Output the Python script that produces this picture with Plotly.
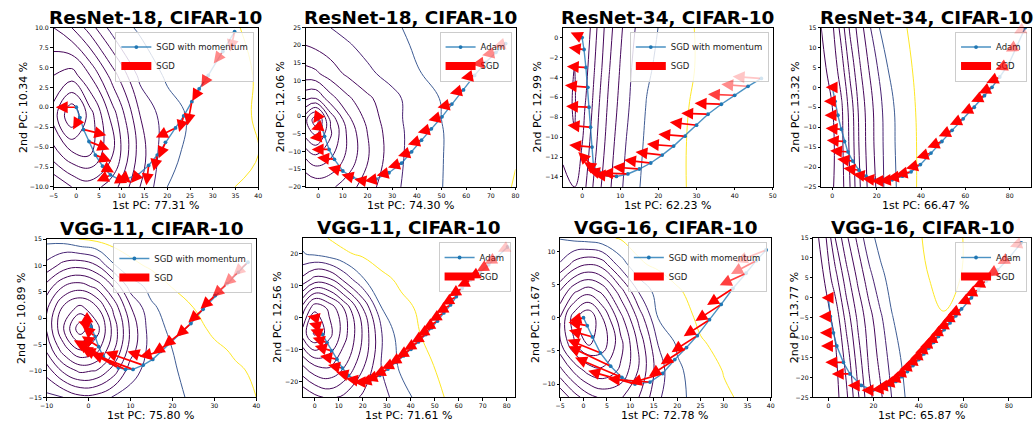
import plotly.graph_objects as go

W, H = 1035, 423

# ---------------- text ----------------
TITLES = ["ResNet-18, CIFAR-10", "ResNet-18, CIFAR-10", "ResNet-34, CIFAR-10", "ResNet-34, CIFAR-10",
          "VGG-11, CIFAR-10", "VGG-11, CIFAR-10", "VGG-16, CIFAR-10", "VGG-16, CIFAR-10"]
PC1 = ["77.31", "74.30", "62.23", "66.47", "75.80", "71.61", "72.78", "65.87"]
PC2 = ["10.34", "12.06", "12.99", "13.32", "10.89", "12.56", "11.67", "13.77"]
OPTIMIZER = ["SGD with momentum", "Adam", "SGD with momentum", "Adam",
             "SGD with momentum", "Adam", "SGD with momentum", "Adam"]
ARROW_NAME = "SGD"

# ---------------- panel 1: ResNet-18, SGD with momentum ----------------
P1_X = [34.8, 32.2, 29.0, 27.0, 25.4, 23.6, 21.8, 19.6, 17.8, 15.9, 13.5, 11.0, 9.2, 7.5, 5.8, 4.2, 2.8, 1.6, 0.8, 0.0]
P1_Y = [9.5, 7.0, 4.0, 2.3, 0.7, -1.1, -2.6, -4.4, -6.0, -7.3, -8.5, -9.0, -9.0, -8.5, -7.4, -6.0, -4.3, -2.8, -1.3, 0.0]
P1_U = [-1.0, -2.0, -1.5, -1.5, -1.0, -1.0, -4.3, -1.5, -0.8, -0.5, -1.5, 1.0, 2.0, -3.0, 2.5, 3.5, 4.5, 5.0, -1.5, -4.5]
P1_V = [-2.5, -1.5, -1.5, -1.5, -3.0, -2.0, -1.2, -2.0, -2.0, -2.5, -1.0, -0.5, -0.5, -0.8, -0.8, -0.8, -1.0, -0.7, -1.5, 0.0]
P1_GX = [-5, -1, 3, 8, 14, 20, 27, 34, 40]
P1_GY = [-10, -6, -1, 4, 10]
P1_Z = [
    [7.0, 6.0, 5.5, 6.5, 9.0, 11.0, 11.4, 11.95, 12.3],
    [4.5, 3.3, 3.0, 5.0, 8.5, 10.8, 11.3, 11.65, 12.0],
    [2.5, 0.0, 2.5, 5.5, 9.0, 10.6, 11.3, 11.7, 12.1],
    [4.0, 3.5, 5.0, 7.5, 10.3, 11.15, 11.5, 11.8, 12.05],
    [6.0, 7.0, 8.5, 10.5, 11.15, 11.4, 11.65, 11.9, 12.2],
]

# ---------------- panel 2: ResNet-18, Adam ----------------
P2_X = [76, 72, 67.9, 63.4, 58.9, 54.2, 50.2, 45.9, 41.9, 37.9, 33.8, 28.7, 23.4, 18.7, 14.0, 10.0, 6.6, 4.4, 2.6, 1.2, 0.0]
P2_Y = [20.5, 18.0, 15.2, 11.5, 7.4, 3.4, -0.2, -3.6, -6.8, -10.1, -13.3, -16.0, -17.8, -18.3, -17.3, -15.5, -12.2, -9.4, -5.7, -2.8, 0.0]
P2_U = [-5, -5.5, -5.6, -5.5, -5.5, -5.8, -5.5, -5.5, -5.5, -5.5, -5.5, -5.0, -4.5, -4.0, -4.5, -6, -7, -7, -6, -4, -2]
P2_V = [-1, -0.8, -0.6, -0.8, -1.0, -1.0, -1.0, -1.0, -1.2, -1.2, -1.2, -0.8, -0.5, 0.5, 0.8, 1.0, 0.5, 0.0, -0.5, -1.0, -2]
P2_GX = [-5, -1, 5, 12, 20, 30, 40, 50, 60, 70, 80]
P2_GY = [-20, -12, -5, -1, 5, 12, 20, 25]
P2_Z = [
    [7.0, 6.7, 6.8, 7.5, 8.6, 9.7, 10.55, 10.98, 11.4, 11.75, 12.05],
    [5.0, 4.4, 5.0, 6.3, 7.9, 9.6, 10.45, 10.97, 11.35, 11.7, 11.97],
    [2.6, 1.8, 3.8, 6.2, 8.0, 9.6, 10.4, 10.97, 11.3, 11.62, 11.9],
    [2.2, 0.3, 4.2, 6.7, 8.3, 9.7, 10.4, 11.0, 11.3, 11.6, 11.88],
    [5.2, 5.0, 6.6, 7.8, 8.8, 9.7, 10.5, 11.05, 11.35, 11.65, 11.9],
    [7.6, 7.8, 8.5, 9.2, 9.8, 10.35, 10.95, 11.2, 11.45, 11.7, 11.9],
    [9.0, 9.2, 9.5, 9.9, 10.3, 10.75, 11.1, 11.3, 11.5, 11.75, 11.95],
    [9.4, 9.6, 10.0, 10.3, 10.6, 10.9, 11.15, 11.35, 11.55, 11.75, 11.95],
]

# ---------------- panel 3: ResNet-34, SGD with momentum ----------------
P3_X = [47, 43.5, 40, 36.5, 33, 30, 27, 24, 21, 18, 15, 12, 9, 6.5, 4.5, 3, 2.6, 2.2, 1.8, 1.5, 1, 0.5, 0]
P3_Y = [-4.1, -4.9, -5.8, -6.7, -7.7, -8.8, -9.9, -10.9, -11.8, -12.6, -13.2, -13.7, -13.95, -13.8, -13.5, -13, -11, -9, -7, -5, -3, -1.2, 0]
P3_U = [-7.5, -7, -7, -7, -7, -7, -7, -7, -7, -7, -7, -7, -6, -5, -4, -4, -6, -6, -6, -6, -5, -4, -3]
P3_V = [0.2, 0.2, 0.1, 0.1, 0.1, 0.3, 0.2, 0.2, 0.3, 0.3, 0.2, 0.1, 0.2, 0.5, 1.0, 1.5, 0.2, 0.2, 0.1, 0.2, 0.1, 0.2, 0.5]
P3_GX = [-5, -2, 1, 3, 5, 7, 10, 13, 17, 22, 28, 35, 42, 50]
P3_GY = [-15, -11, -7, -3, 1]
P3_Z = [
    [5.5, 5.0, 6.0, 7.1, 8.0, 8.8, 9.8, 10.7, 11.25, 11.6, 12.05, 12.35, 12.6, 12.85],
    [4.6, 4.1, 5.5, 6.6, 7.6, 8.5, 9.6, 10.45, 11.2, 11.6, 12.05, 12.35, 12.6, 12.82],
    [4.4, 3.9, 5.1, 6.2, 7.3, 8.2, 9.3, 10.2, 11.07, 11.5, 12.0, 12.3, 12.55, 12.8],
    [4.5, 4.0, 4.7, 5.85, 6.9, 7.9, 9.05, 10.0, 10.85, 11.38, 11.93, 12.25, 12.52, 12.78],
    [4.6, 4.1, 4.3, 5.5, 6.6, 7.6, 8.8, 9.8, 10.65, 11.25, 11.95, 12.2, 12.5, 12.75],
]

# ---------------- panel 4: ResNet-34, Adam ----------------
P4_X = [87, 83.3, 79.6, 75.5, 72, 68.6, 64, 59, 54, 49.4, 44.5, 39.7, 35.5, 31.6, 27, 22.6, 18.5, 15.2, 12, 9.2, 7, 5.5, 4, 2.5, 1.2, 0.0]
P4_Y = [15, 10.5, 5.9, 2.6, 0.0, -2.1, -5.0, -7.9, -10.8, -13.6, -16.5, -19.4, -21.2, -22.3, -23.2, -23.5, -23.2, -22.3, -20.8, -18.5, -16.2, -13.6, -10.5, -7.0, -3.5, 0.0]
P4_U = [-5, -5, -6, -6, -6, -6, -6, -6, -6, -6.5, -6.5, -6.5, -7, -7, -6, -5, -5, -6, -7, -7, -8, -8, -7, -6, -5, -3]
P4_V = [-1.5, -1.5, -1.5, -1.5, -1.5, -1.5, -1.5, -1.5, -1.5, -1.5, -1.2, -1.0, -0.8, -0.5, -0.3, 0, 0.3, 0.5, 0.5, 0.5, 0.3, 0.3, 0.2, 0, 0, 0]
P4_GX = [-5, 0, 4, 8, 12, 16, 20, 25, 30, 38, 50, 65, 89.6]
P4_GY = [-25, -15, -5, 5, 15]
P4_Z = [
    [3.0, 2.9, 3.6, 5.0, 6.8, 8.1, 9.1, 10.5, 11.15, 12.0, 12.4, 12.7, 13.0],
    [2.5, 2.8, 3.7, 5.2, 7.0, 8.3, 9.3, 10.5, 11.25, 12.0, 12.4, 12.7, 13.0],
    [2.5, 3.0, 3.8, 5.4, 7.2, 8.4, 9.4, 10.6, 11.3, 12.05, 12.4, 12.7, 13.0],
    [2.7, 3.4, 4.5, 6.3, 7.8, 8.9, 9.9, 11.0, 11.55, 12.15, 12.5, 12.75, 13.05],
    [3.0, 3.8, 5.4, 7.2, 8.4, 9.6, 10.9, 11.3, 11.75, 12.3, 12.6, 12.8, 13.1],
]

# ---------------- panel 5: VGG-11, SGD with momentum ----------------
P5_X = [38.0, 35.7, 33.0, 30.2, 27.3, 24.4, 21.8, 19.3, 17.2, 15.3, 13.0, 10.6, 8.8, 7.1, 5.2, 3.5, 2.4, 1.6, 0.6, 0.0]
P5_Y = [10.6, 8.7, 6.5, 4.3, 1.7, -1.0, -2.9, -4.7, -6.3, -7.8, -8.9, -9.7, -9.7, -9.4, -8.5, -7.2, -5.4, -3.5, -1.6, 0.0]
P5_U = [-3.5, -3.5, -3.5, -3.5, -3.5, -3.5, -4, -4, -5, -6, -9, -10, -10, -9, -8, -7, -4, -3, -3, -2]
P5_V = [-2.5, -2.5, -2.5, -2.5, -2.5, -2.5, -2.5, -2.0, -1.0, 1.5, 2.5, 3.0, 4.0, 4.0, 4.0, 3.0, 2.0, 2.0, 1.0, -1.0]
P5_GX = [-10, -6, -2, 2, 6, 10, 15, 20, 25, 30, 35, 40]
P5_GY = [-15, -10, -6, -2, 2, 6, 10, 15]
P5_Z = [
    [10.3, 10.0, 9.3, 9.4, 10.1, 10.4, 10.6, 10.85, 11.1, 11.5, 11.75, 12.0],
    [8.6, 6.8, 5.8, 6.1, 7.5, 9.6, 10.45, 10.9, 11.3, 11.7, 11.9, 12.1],
    [6.8, 4.5, 3.0, 3.7, 5.9, 8.5, 10.5, 11.0, 11.5, 11.85, 12.1, 12.4],
    [5.9, 3.05, 0.26, 2.6, 5.4, 8.2, 10.6, 11.2, 11.75, 12.15, 12.5, 12.8],
    [6.2, 3.8, 2.7, 3.9, 6.3, 8.9, 10.85, 11.4, 12.0, 12.3, 12.6, 12.85],
    [7.6, 6.0, 5.5, 6.3, 8.1, 10.5, 11.3, 12.05, 12.35, 12.6, 12.8, 13.0],
    [9.7, 8.6, 8.3, 9.0, 10.9, 11.7, 12.2, 12.4, 12.6, 12.8, 12.95, 13.1],
    [11.3, 11.5, 12.05, 12.3, 12.5, 12.65, 12.8, 12.9, 13.0, 13.1, 13.2, 13.3],
]

# ---------------- panel 6: VGG-11, Adam ----------------
P6_X = [80.4, 75.9, 72.5, 69.0, 65.0, 61.4, 59.0, 56.6, 53.8, 51.1, 48.7, 46.3, 43.2, 40.1, 37.0, 33.9, 30.5, 27.1, 23.6, 20.2, 17.0, 14.0, 11.5, 9.2, 7.0, 5.1, 3.2, 1.6, 0.0]
P6_Y = [22.2, 18.9, 16.6, 14.3, 11.8, 9.2, 6.6, 4.0, 1.5, -1.1, -3.2, -5.3, -7.6, -9.9, -12.0, -14.0, -16.1, -18.1, -19.4, -20.2, -19.6, -18.1, -15.8, -13.0, -10.4, -7.8, -5.2, -2.7, 0.0]
P6_U = [-4, -5, -5, -5, -5.5, -5.5, -6, -6, -6, -6, -6, -6, -6, -6, -6, -6, -6, -6, -5, -4, -4, -5, -6, -7, -7, -6, -5, -4, -3]
P6_V = [-1.5, -2, -2, -2, -2, -2.5, -2.5, -2.5, -2.5, -2.5, -2.5, -2.5, -2.5, -2.5, -2.5, -2, -2, -1.5, -1, 0, 0.5, 1, 1, 1, 1.5, 1.5, 1.5, 1, 0.5]
P6_GX = [-5, 0, 6, 12, 20, 28, 36, 44, 54, 66, 83.3]
P6_GY = [-25, -15, -5, 3, 12, 20, 25]
P6_Z = [
    [9.0, 8.3, 7.8, 8.2, 9.2, 9.6, 10.6, 11.3, 12.0, 12.4, 12.8],
    [6.0, 5.0, 4.8, 5.8, 7.8, 10.1, 11.2, 11.75, 12.2, 12.5, 12.9],
    [2.5, 0.8, 2.6, 4.5, 7.1, 10.0, 11.6, 12.0, 12.4, 12.8, 13.2],
    [4.5, 2.2, 3.2, 5.0, 8.0, 11.0, 11.8, 12.1, 12.45, 12.8, 13.2],
    [8.7, 7.6, 7.8, 9.2, 10.9, 11.8, 12.15, 12.4, 12.65, 12.9, 13.2],
    [10.95, 11.15, 11.5, 11.85, 12.15, 12.4, 12.6, 12.75, 12.9, 13.05, 13.3],
    [11.2, 11.6, 12.05, 12.3, 12.5, 12.65, 12.8, 12.9, 13.0, 13.15, 13.4],
]

# ---------------- panel 7: VGG-16, SGD with momentum ----------------
P7_X = [39.0, 36.9, 34.7, 31.9, 29.4, 26.9, 24.3, 22.0, 19.5, 16.9, 14.2, 11.0, 8.2, 5.8, 3.6, 1.9, 0.8, 0.0]
P7_Y = [10.2, 8.6, 6.7, 4.4, 2.0, -0.3, -2.7, -4.5, -6.3, -8.4, -9.7, -10.0, -9.0, -7.3, -5.3, -2.9, -1.2, 0.0]
P7_U = [-6.5, -5.4, -5.6, -5.5, -5.5, -5.5, -5.5, -5.5, -5.5, -7, -9, -10, -10, -9, -7, -5, -4, -3]
P7_V = [-1.8, -2.0, -1.8, -2.5, -2.5, -2.5, -2.5, -2.5, -2.5, -1.5, 0.5, 2.0, 3.0, 3.0, 2.0, 1.0, 0.5, -0.5]
P7_GX = [-5, -2, 1, 4, 8, 12, 16, 20, 25, 30, 35, 40]
P7_GY = [-12, -8, -4, 0, 4, 8, 12]
P7_Z = [
    [9.9, 8.5, 7.4, 6.8, 6.9, 8.05, 9.85, 10.8, 11.3, 11.85, 12.2, 12.45],
    [7.35, 5.8, 4.65, 4.25, 5.2, 7.2, 9.55, 10.85, 11.4, 12.05, 12.35, 12.6],
    [5.2, 3.15, 1.9, 2.4, 4.7, 7.35, 10.05, 11.1, 11.9, 12.25, 12.55, 12.85],
    [4.95, 2.4, 1.0, 2.95, 5.7, 8.45, 11.05, 11.5, 12.2, 12.55, 12.85, 13.1],
    [6.95, 5.2, 4.45, 5.25, 7.6, 10.2, 11.45, 11.9, 12.35, 12.7, 12.95, 13.2],
    [9.9, 8.6, 8.0, 8.4, 10.5, 11.9, 12.15, 12.4, 12.7, 12.95, 13.15, 13.35],
    [11.05, 11.3, 11.5, 11.75, 12.1, 12.3, 12.5, 12.7, 12.9, 13.1, 13.25, 13.4],
]

# ---------------- panel 8: VGG-16, Adam ----------------
P8_X = [85.5, 80.0, 75.0, 70.0, 66.5, 63.4, 59.0, 56.5, 53.9, 51.3, 48.8, 46.6, 44.5, 42.3, 40.1, 37.5, 35.0, 32.5, 29.9, 27.0, 24.1, 19.7, 14.6, 9.5, 6.6, 3.7, 2.2, 0.8, 0.0]
P8_Y = [13.8, 10.0, 7.0, 4.2, 2.0, 0.0, -2.8, -4.5, -6.3, -8.0, -9.7, -11.2, -12.6, -14.1, -15.5, -17.0, -18.5, -19.8, -21.0, -22.0, -22.8, -23.2, -22.0, -19.1, -16.2, -12.1, -8.8, -4.7, 0.0]
P8_U = [-5, -5, -5, -6, -6, -6, -6, -6, -6, -6, -6, -6, -6, -6, -6, -6, -6, -6, -6, -6, -5, -5, -6, -8, -8, -7, -6, -5, -3]
P8_V = [-1, -1.5, -1.5, -1.5, -1.5, -1.5, -1.5, -1.5, -1.5, -1.5, -1.5, -1.2, -1.2, -1.2, -1.2, -1, -1, -1, -0.8, -0.5, -0.3, 0, 0, 0, 0, 0, 0, 0, 0]
P8_GX = [-6.7, -2, 3, 8, 13, 18, 23, 28, 34, 42, 51, 60, 70, 89.8]
P8_GY = [-25, -15, -5, 5, 15]
P8_Z = [
    [3.0, 2.8, 2.6, 3.8, 5.8, 7.7, 8.8, 10.0, 11.0, 11.45, 11.65, 11.7, 11.75, 11.75],
    [2.5, 2.3, 2.8, 4.4, 6.5, 8.2, 9.3, 10.4, 11.3, 11.6, 11.75, 11.8, 11.8, 11.8],
    [2.0, 2.5, 3.3, 5.4, 7.2, 8.6, 9.8, 10.95, 11.4, 11.75, 11.95, 11.95, 11.9, 11.85],
    [2.2, 3.0, 4.6, 6.6, 8.2, 9.6, 10.8, 11.25, 11.55, 11.9, 12.25, 11.95, 11.85, 11.8],
    [2.5, 3.5, 6.0, 7.8, 9.25, 10.75, 11.25, 11.5, 11.7, 12.02, 12.4, 11.98, 11.85, 11.8],
]

# ---------------- axes ----------------
X_RANGE = [(-5, 40), (-5, 80), (-5, 50), (-5, 89.6), (-10, 40), (-5, 83.3), (-5, 40), (-6.7, 89.8)]
Y_RANGE = [(-10, 10), (-20, 25), (-15, 1), (-25, 15), (-15, 15), (-25, 25), (-12, 12), (-25, 15)]
X_DTICK = [5, 10, 10, 20, 10, 10, 5, 20]
Y_DTICK = [2.5, 5, 2, 5, 5, 10, 5, 5]

# ---------------- layout (pixels) ----------------
BOXES = [(47, 254, 24, 186), (302, 514, 24, 186), (562, 774, 24, 186), (823, 1035, 24, 186),
         (40, 252, 239, 400), (299, 513, 238, 400), (559, 772, 238, 400), (815, 1035, 238, 400)]
YTITLE_OFF = [31, 26, 26, 26, 26, 25, 25, 19]

panels = [
    dict(tx=P1_X, ty=P1_Y, u=P1_U, v=P1_V, gx=P1_GX, gy=P1_GY, z=P1_Z),
    dict(tx=P2_X, ty=P2_Y, u=P2_U, v=P2_V, gx=P2_GX, gy=P2_GY, z=P2_Z),
    dict(tx=P3_X, ty=P3_Y, u=P3_U, v=P3_V, gx=P3_GX, gy=P3_GY, z=P3_Z),
    dict(tx=P4_X, ty=P4_Y, u=P4_U, v=P4_V, gx=P4_GX, gy=P4_GY, z=P4_Z),
    dict(tx=P5_X, ty=P5_Y, u=P5_U, v=P5_V, gx=P5_GX, gy=P5_GY, z=P5_Z),
    dict(tx=P6_X, ty=P6_Y, u=P6_U, v=P6_V, gx=P6_GX, gy=P6_GY, z=P6_Z),
    dict(tx=P7_X, ty=P7_Y, u=P7_U, v=P7_V, gx=P7_GX, gy=P7_GY, z=P7_Z),
    dict(tx=P8_X, ty=P8_Y, u=P8_U, v=P8_V, gx=P8_GX, gy=P8_GY, z=P8_Z),
]

# contour levels 1..12: purple rings, then blue, then yellow
CSCALE = [[0.0, '#440154'], [0.74, '#46085c'], [0.818, '#482273'], [0.909, '#3e5c94'], [1.0, '#fde725']]
FONT = 'DejaVu Sans'
ALPHA_RAMP = [0.22, 0.45, 0.75]

fig = go.Figure()
annotations = []
layout = {}

for i, p in enumerate(panels):
    n = i + 1
    sx = '' if n == 1 else str(n)
    xa, ya = 'x' + sx, 'y' + sx
    leg = 'legend' + sx
    left, right, top, bottom = BOXES[i]

    fig.add_trace(go.Contour(
        x=p['gx'], y=p['gy'], z=p['z'], xaxis=xa, yaxis=ya,
        contours=dict(start=1, end=12, size=1, coloring='lines', showlabels=False),
        line=dict(width=1.0, smoothing=1.2), colorscale=CSCALE, showscale=False,
        hoverinfo='skip', showlegend=False))
    fig.add_trace(go.Scatter(
        x=p['tx'], y=p['ty'], mode='lines+markers', name=OPTIMIZER[i], legend=leg,
        xaxis=xa, yaxis=ya,
        line=dict(color='rgba(31,119,180,0.8)', width=1.4),
        marker=dict(size=3.8, color='#1f77b4')))
    fig.add_trace(go.Scatter(
        x=[None], y=[None], mode='lines', name=ARROW_NAME, legend=leg,
        xaxis=xa, yaxis=ya, line=dict(color='red', width=8)))

    for k, (x0, y0, du, dv) in enumerate(zip(p['tx'], p['ty'], p['u'], p['v'])):
        a = ALPHA_RAMP[k] if k < len(ALPHA_RAMP) else 1.0
        annotations.append(dict(
            x=x0 + du, y=y0 + dv, ax=x0, ay=y0, xref=xa, yref=ya, axref=xa, ayref=ya,
            text='', showarrow=True, arrowhead=2, arrowsize=1.4, arrowwidth=1.7,
            arrowcolor=f'rgba(255,0,0,{a})', standoff=0, startstandoff=0))

    axis_common = dict(showline=True, linecolor='black', linewidth=1, mirror=True,
                       ticks='outside', ticklen=2.5, tickwidth=0.8, tickcolor='black',
                       tickfont=dict(family=FONT, size=6.2, color='black'),
                       showgrid=False, zeroline=False, tick0=0)
    layout['xaxis' + sx] = dict(axis_common, domain=[left / W, right / W], range=list(X_RANGE[i]),
                                dtick=X_DTICK[i], anchor=ya)
    yax = dict(axis_common, domain=[1 - bottom / H, 1 - top / H], range=list(Y_RANGE[i]),
               dtick=Y_DTICK[i], anchor=xa)
    if n == 1:
        yax['tickformat'] = '.1f'
    layout['yaxis' + sx] = yax

    layout[leg] = dict(x=(right - 4) / W, y=1 - (top + 4) / H, xanchor='right', yanchor='top',
                       xref='paper', yref='paper',
                       bgcolor='rgba(255,255,255,0.8)', bordercolor='#cccccc', borderwidth=1,
                       font=dict(family=FONT, size=8.5, color='#222'), itemwidth=30,
                       tracegroupgap=0)

    cx = (left + right) / 2 / W
    annotations.append(dict(text=TITLES[i], x=cx, y=1 - top / H, xref='paper', yref='paper',
                            xanchor='center', yanchor='bottom', yshift=-2, showarrow=False,
                            font=dict(family=FONT, size=18.4, color='black', weight='bold')))
    annotations.append(dict(text=f'1st PC: {PC1[i]} %', x=cx, y=1 - (bottom + 18.5) / H,
                            xref='paper', yref='paper', xanchor='center', yanchor='middle',
                            showarrow=False, font=dict(family=FONT, size=11, color='black')))
    annotations.append(dict(text=f'2nd PC: {PC2[i]} %', x=(left - YTITLE_OFF[i]) / W,
                            y=1 - (top + bottom) / 2 / H, xref='paper', yref='paper',
                            xanchor='center', yanchor='middle', textangle=-90,
                            showarrow=False, font=dict(family=FONT, size=11, color='black')))

fig.update_layout(**layout)
fig.update_layout(width=W, height=H, margin=dict(l=0, r=0, t=0, b=0),
                  paper_bgcolor='white', plot_bgcolor='white',
                  annotations=annotations, showlegend=True)
fig.write_html('out.html')
